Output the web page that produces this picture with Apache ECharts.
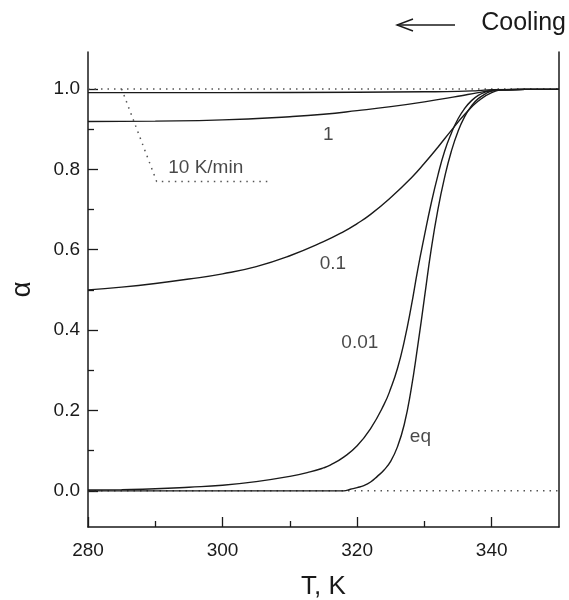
<!DOCTYPE html>
<html>
<head>
<meta charset="utf-8">
<script src="https://cdn.jsdelivr.net/npm/echarts@6/dist/echarts.min.js"></script>
<style>html,body{margin:0;padding:0;background:#fff;}#c{width:569px;height:600px;}</style>
</head>
<body>
<div id="c"></div>
<script>
// Temperature (K) and conversion alpha for each cooling rate
const T_10 = [280, 300, 320, 330, 335, 338, 340, 345, 350];
const A_10 = [0.991, 0.991, 0.992, 0.993, 0.994, 0.996, 0.998, 0.999, 0.999];

const T_1 = [280, 290, 300, 310, 315, 320, 325, 330, 335, 338, 340, 342, 345, 350];
const A_1 = [0.919, 0.920, 0.923, 0.931, 0.937, 0.946, 0.956, 0.968, 0.982, 0.991, 0.996, 0.998, 0.999, 0.999];

const T_01 = [280, 285, 290, 295, 300, 305, 310, 315, 318, 320, 322, 325, 328, 330, 332, 334, 336, 338, 340, 342, 345, 350];
const A_01 = [0.500, 0.507, 0.516, 0.527, 0.540, 0.558, 0.585, 0.620, 0.645, 0.665, 0.688, 0.730, 0.778, 0.815, 0.855, 0.897, 0.937, 0.970, 0.991, 0.998, 0.999, 0.999];

const T_001 = [280, 285, 290, 295, 300, 305, 310, 313, 315, 316, 318, 320, 322, 324, 325, 326, 327, 328, 329, 330, 331, 332, 333, 334, 335, 336, 337, 338, 339, 340, 342, 345, 350];
const A_001 = [0.002, 0.003, 0.005, 0.009, 0.014, 0.023, 0.036, 0.047, 0.057, 0.064, 0.084, 0.112, 0.155, 0.215, 0.255, 0.305, 0.372, 0.455, 0.550, 0.635, 0.715, 0.785, 0.845, 0.890, 0.926, 0.952, 0.971, 0.984, 0.992, 0.996, 0.998, 0.999, 0.999];

const T_eq = [280, 300, 318, 319, 320, 321, 322, 323, 324, 325, 326, 327, 328, 329, 330, 331, 332, 333, 334, 335, 336, 337, 338, 339, 340, 342, 345, 350];
const A_eq = [0.000, 0.000, 0.000, 0.004, 0.008, 0.013, 0.022, 0.036, 0.052, 0.074, 0.110, 0.165, 0.250, 0.360, 0.480, 0.600, 0.700, 0.780, 0.845, 0.895, 0.932, 0.958, 0.976, 0.987, 0.995, 0.998, 0.999, 0.999];

// reference dotted lines and label leader
const REF_ONE = [[280, 1.0], [350, 1.0]];
const REF_ZERO = [[280, 0.0], [350, 0.0]];
const LEADER = [[285, 1.0], [290.2, 0.77], [307, 0.77]];

// curve labels: [T, alpha, text]
const LABELS = [
  [315.7, 0.886, '1'],
  [297.5, 0.803, '10 K/min'],
  [316.4, 0.565, '0.1'],
  [320.4, 0.368, '0.01'],
  [329.4, 0.134, 'eq']
];

// tick values
const X_MAJOR = [280, 300, 320, 340];
const X_MINOR = [290, 310, 330];
const Y_MAJOR = [0, 0.2, 0.4, 0.6, 0.8, 1.0];
const Y_MINOR = [0.1, 0.3, 0.5, 0.7, 0.9];

const zip = (a, b) => a.map((v, i) => [v, b[i]]);
const FONT = 'Liberation Sans, Arial, sans-serif';
const INK = '#1a1a1a';
const X_MIN = 280, X_MAX = 350, Y_MIN = -0.09, Y_MAX = 1.092;

const curve = (name, data) => ({
  name, type: 'line', data, showSymbol: false, smooth: 0.5,
  lineStyle: { color: INK, width: 1.4 }, z: 3
});
const dotted = (name, data) => ({
  name, type: 'line', data, showSymbol: false,
  lineStyle: { color: '#555', width: 1.5, type: [1.5, 5] }, z: 2
});

const chart = echarts.init(document.getElementById('c'), null, { renderer: 'canvas' });
chart.setOption({
  animation: false,
  backgroundColor: '#fff',
  grid: { left: 88, right: 10, top: 52, bottom: 73, containLabel: false, outerBoundsMode: 'none' },
  xAxis: [{
    type: 'value', min: X_MIN, max: X_MAX, position: 'bottom',
    name: 'T, K', nameLocation: 'middle', nameGap: 47,
    nameTextStyle: { fontFamily: FONT, fontSize: 26, color: INK },
    axisLine: { show: true, onZero: false, lineStyle: { color: INK, width: 1.5 } },
    axisTick: { show: true, inside: true, length: 10, customValues: X_MAJOR, lineStyle: { color: INK, width: 1.3 } },
    axisLabel: { show: true, customValues: X_MAJOR, margin: 14, fontFamily: FONT, fontSize: 19, color: INK },
    splitLine: { show: false }
  }, {
    type: 'value', min: X_MIN, max: X_MAX, position: 'bottom',
    axisLine: { show: false, onZero: false },
    axisTick: { show: true, inside: true, length: 6, customValues: X_MINOR, lineStyle: { color: INK, width: 1.3 } },
    axisLabel: { show: false },
    splitLine: { show: false }
  }],
  yAxis: [{
    type: 'value', min: Y_MIN, max: Y_MAX, position: 'left',
    name: 'α', nameLocation: 'middle', nameGap: 52, nameRotate: 90,
    nameTextStyle: { fontFamily: FONT, fontSize: 28, color: INK },
    axisLine: { show: true, onZero: false, lineStyle: { color: INK, width: 1.5 } },
    axisTick: { show: true, inside: true, length: 10, customValues: Y_MAJOR, lineStyle: { color: INK, width: 1.3 } },
    axisLabel: { show: true, customValues: Y_MAJOR, margin: 8, fontFamily: FONT, fontSize: 19, color: INK,
      formatter: v => Number(v).toFixed(1) },
    splitLine: { show: false }
  }, {
    type: 'value', min: Y_MIN, max: Y_MAX, position: 'left',
    axisLine: { show: false, onZero: false },
    axisTick: { show: true, inside: true, length: 6, customValues: Y_MINOR, lineStyle: { color: INK, width: 1.3 } },
    axisLabel: { show: false },
    splitLine: { show: false }
  }, {
    type: 'value', min: Y_MIN, max: Y_MAX, position: 'right',
    axisLine: { show: true, onZero: false, lineStyle: { color: INK, width: 1.5 } },
    axisTick: { show: false }, axisLabel: { show: false }, splitLine: { show: false }
  }],
  series: [
    dotted('ref1', REF_ONE),
    dotted('ref0', REF_ZERO),
    dotted('leader', LEADER),
    curve('10 K/min', zip(T_10, A_10)),
    curve('1', zip(T_1, A_1)),
    curve('0.1', zip(T_01, A_01)),
    curve('0.01', zip(T_001, A_001)),
    curve('eq', zip(T_eq, A_eq)),
    {
      name: 'labels', type: 'scatter', symbolSize: 0, z: 5,
      data: LABELS.map(l => ({ value: [l[0], l[1]], name: l[2] })),
      label: { show: true, position: 'inside', formatter: p => p.name,
        fontFamily: FONT, fontSize: 19, color: INK }
    }
  ],
  graphic: [
    { type: 'text', right: 3, top: 11,
      style: { text: 'Cooling', font: '25px ' + FONT, fill: INK } },
    { type: 'polyline', shape: { points: [[455, 25], [397, 25]] },
      style: { stroke: INK, lineWidth: 1.4, fill: null } },
    { type: 'polyline', shape: { points: [[413, 19], [397, 25], [413, 31]] },
      style: { stroke: INK, lineWidth: 1.4, fill: null } }
  ]
});
</script>
</body>
</html>
